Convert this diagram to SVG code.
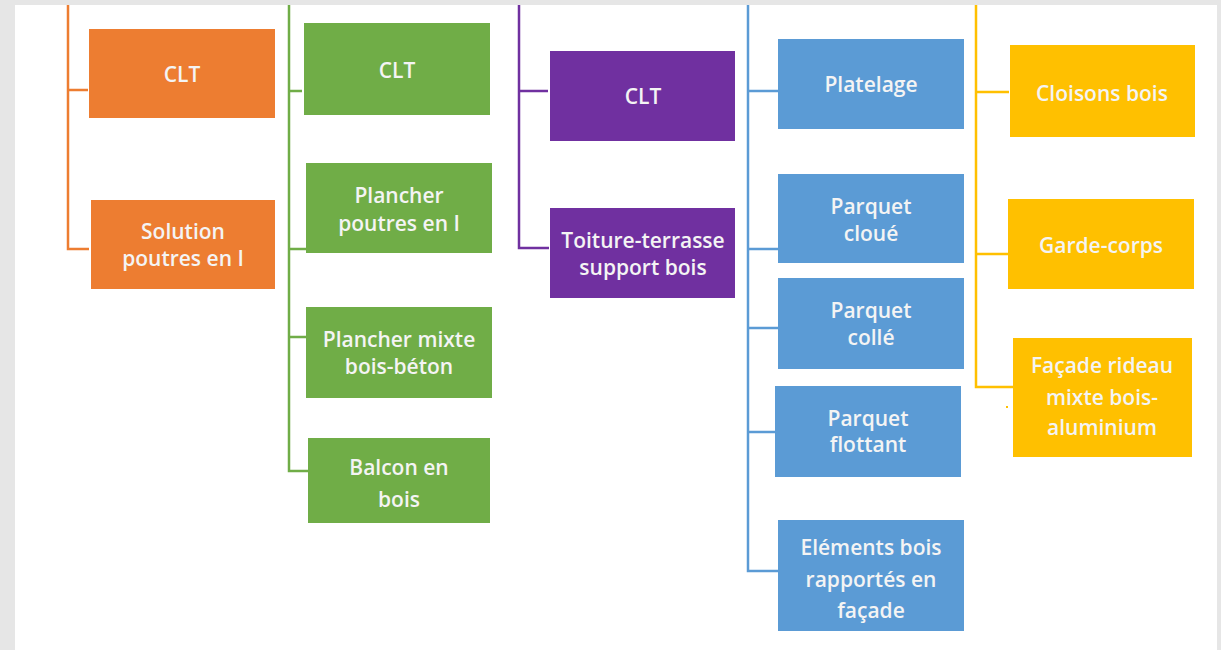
<svg xmlns="http://www.w3.org/2000/svg" width="1221" height="650" viewBox="0 0 1221 650">
<style>
.t{font-family:"Open Sans","Liberation Sans",sans-serif;font-size:21px;font-weight:600;fill:#f4f4f4;text-anchor:middle;dominant-baseline:central}
.ln{fill:none;stroke-width:2.5}
.o{fill:#ED7D31}.g{fill:#70AD47}.p{fill:#7030A0}.b{fill:#5B9BD5}.y{fill:#FFC000}
</style>
<rect x="0" y="0" width="1221" height="650" fill="#e6e6e6"/>
<rect x="15" y="5" width="1202" height="645" fill="#ffffff"/>
<g id="connectors">
<path class="ln" stroke="#ED7D31" d="M68 5V249H89M68 90H88"/>
<path class="ln" stroke="#70AD47" d="M289 5V471H308M289 91H302M289 249H306M289 337H306"/>
<path class="ln" stroke="#7030A0" d="M519 5V248H549M519 91H548"/>
<path class="ln" stroke="#5B9BD5" d="M748 5V571H778M748 91H778M748 249H778M748 328H778M748 432H775"/>
<path class="ln" stroke="#FFC000" d="M976 5V387H1013M976 92H1009M976 254H1008"/>
<rect x="1006" y="406" width="2" height="2" fill="#FFC000"/>
</g>
<g id="n-o-clt"><rect class="o" x="89" y="29" width="186" height="89"/><text class="t" x="182" y="74">CLT</text></g>
<g id="n-o-sol"><rect class="o" x="91" y="200" width="184" height="89"/><text class="t" x="183" y="231">Solution</text><text class="t" x="183" y="258">poutres en I</text></g>
<g id="n-g-clt"><rect class="g" x="304" y="23" width="186" height="92"/><text class="t" x="397" y="70">CLT</text></g>
<g id="n-g-pp"><rect class="g" x="306" y="163" width="186" height="90"/><text class="t" x="399" y="195">Plancher</text><text class="t" x="399" y="223">poutres en I</text></g>
<g id="n-g-pm"><rect class="g" x="306" y="307" width="186" height="91"/><text class="t" x="399" y="339">Plancher mixte</text><text class="t" x="399" y="366">bois-béton</text></g>
<g id="n-g-bal"><rect class="g" x="308" y="438" width="182" height="85"/><text class="t" x="399" y="467">Balcon en</text><text class="t" x="399" y="499">bois</text></g>
<g id="n-p-clt"><rect class="p" x="550" y="51" width="185" height="90"/><text class="t" x="643" y="96">CLT</text></g>
<g id="n-p-toit"><rect class="p" x="550" y="208" width="185" height="90"/><text class="t" x="643" y="240">Toiture-terrasse</text><text class="t" x="643" y="267">support bois</text></g>
<g id="n-b-plat"><rect class="b" x="778" y="39" width="186" height="90"/><text class="t" x="871" y="84">Platelage</text></g>
<g id="n-b-clou"><rect class="b" x="778" y="174" width="186" height="89"/><text class="t" x="871" y="206">Parquet</text><text class="t" x="871" y="233">cloué</text></g>
<g id="n-b-coll"><rect class="b" x="778" y="278" width="186" height="91"/><text class="t" x="871" y="310">Parquet</text><text class="t" x="871" y="337">collé</text></g>
<g id="n-b-flot"><rect class="b" x="775" y="386" width="186" height="91"/><text class="t" x="868" y="418">Parquet</text><text class="t" x="868" y="444">flottant</text></g>
<g id="n-b-elem"><rect class="b" x="778" y="520" width="186" height="111"/><text class="t" x="871" y="547">Eléments bois</text><text class="t" x="871" y="579">rapportés en</text><text class="t" x="871" y="610">façade</text></g>
<g id="n-y-cloi"><rect class="y" x="1010" y="45" width="185" height="92"/><text class="t" x="1102" y="93">Cloisons bois</text></g>
<g id="n-y-gard"><rect class="y" x="1008" y="199" width="186" height="90"/><text class="t" x="1101" y="245">Garde-corps</text></g>
<g id="n-y-fac"><rect class="y" x="1013" y="338" width="179" height="119"/><text class="t" x="1102" y="365">Façade rideau</text><text class="t" x="1102" y="397">mixte bois-</text><text class="t" x="1102" y="427">aluminium</text></g>
</svg>
